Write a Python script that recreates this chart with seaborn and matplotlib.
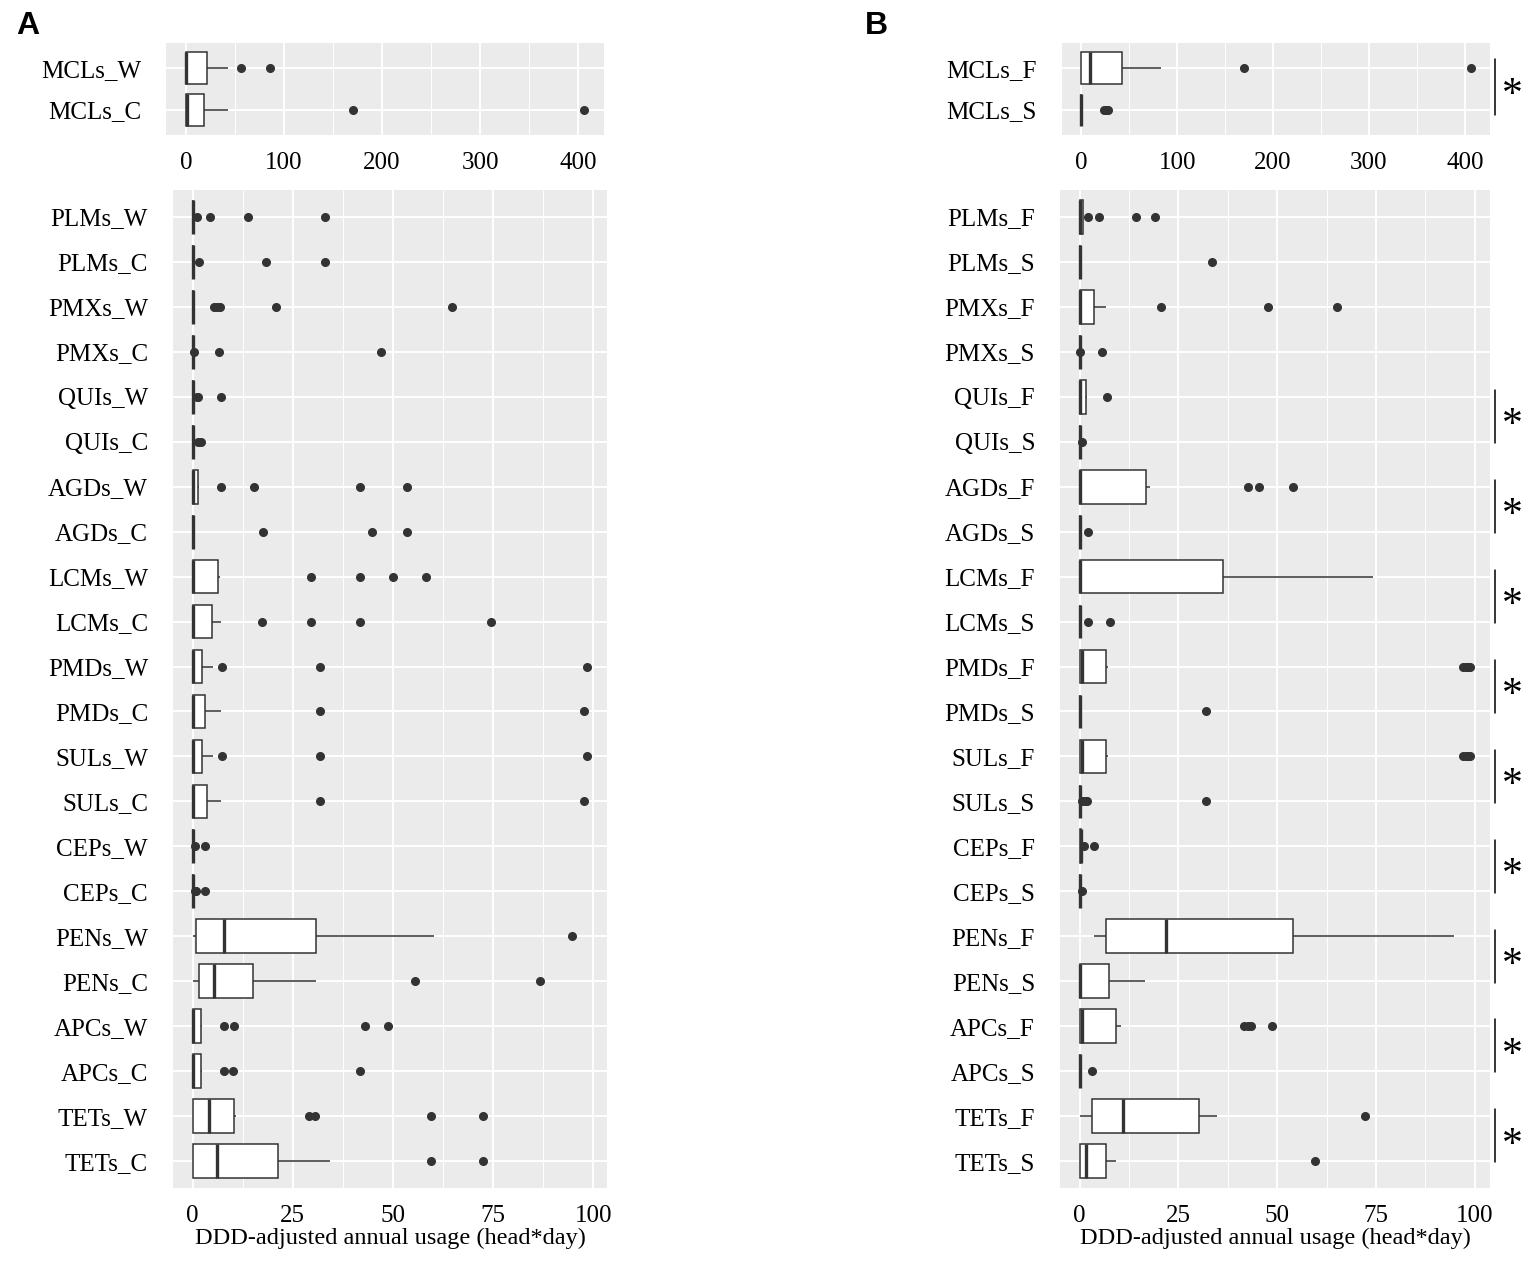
import matplotlib.pyplot as plt
import matplotlib.transforms as mtransforms
from matplotlib.ticker import MultipleLocator
import numpy as np
import pandas as pd
import seaborn as sns

# each group: 21 usage values (min/Q1/median/Q3/whisker/outliers)
a_top_labels = ["MCLs_W", "MCLs_C"]
a_top_values = [
    [0, 0, 0, 0, 0, 0, 0, 0, 0, 0, 0, 2, 5, 9, 15, 21.5, 28, 35, 43, 56, 86],
    [0, 0, 0, 0, 0, 0, 0.3, 0.6, 0.9, 1.2, 1.5, 4, 8, 12, 15, 18, 25, 33, 43, 170, 406],
]

a_bot_labels = ["PLMs_W", "PLMs_C", "PMXs_W", "PMXs_C", "QUIs_W", "QUIs_C",
                "AGDs_W", "AGDs_C", "LCMs_W", "LCMs_C", "PMDs_W", "PMDs_C",
                "SULs_W", "SULs_C", "CEPs_W", "CEPs_C", "PENs_W", "PENs_C",
                "APCs_W", "APCs_C", "TETs_W", "TETs_C"]
a_bot_values = [
    [0, 0, 0, 0, 0, 0, 0, 0, 0, 0, 0, 0, 0, 0, 0, 0, 0, 1.1, 4.3, 13.8, 33.0],
    [0, 0, 0, 0, 0, 0, 0, 0, 0, 0, 0, 0, 0, 0, 0, 0, 0, 0, 1.6, 18.4, 33.0],
    [0, 0, 0, 0, 0, 0, 0, 0, 0, 0, 0, 0, 0, 0, 0, 0, 5.3, 6.1, 6.8, 20.7, 64.8],
    [0, 0, 0, 0, 0, 0, 0, 0, 0, 0, 0, 0, 0, 0, 0, 0, 0, 0, 0.2, 6.5, 47.0],
    [0, 0, 0, 0, 0, 0, 0, 0, 0, 0, 0, 0, 0, 0, 0, 0, 0, 0, 1.0, 1.3, 7.0],
    [0, 0, 0, 0, 0, 0, 0, 0, 0, 0, 0, 0, 0, 0, 0, 0, 0, 0, 0, 1.2, 2.0],
    [0, 0, 0, 0, 0, 0, 0, 0, 0, 0, 0, 0.3, 0.6, 0.9, 1.1, 1.3, 1.6, 7.0, 15.3, 41.8, 53.6],
    [0, 0, 0, 0, 0, 0, 0, 0, 0, 0, 0, 0, 0, 0, 0, 0, 0, 0, 17.5, 44.8, 53.6],
    [0, 0, 0, 0, 0, 0, 0, 0, 0, 0, 0, 1.0, 2.2, 3.5, 5.0, 6.2, 6.9, 29.6, 41.8, 50.1, 58.2],
    [0, 0, 0, 0, 0, 0, 0, 0, 0, 0, 0, 0.8, 1.7, 2.8, 3.9, 4.7, 7.0, 17.2, 29.6, 41.8, 74.4],
    [0, 0, 0, 0, 0, 0, 0, 0, 0, 0, 0, 0.4, 0.9, 1.5, 2.0, 2.4, 3.6, 5.1, 7.4, 31.8, 98.5],
    [0, 0, 0, 0, 0, 0, 0, 0, 0, 0, 0, 0.5, 1.2, 1.9, 2.5, 3.1, 4.5, 5.8, 7.0, 31.8, 97.7],
    [0, 0, 0, 0, 0, 0, 0, 0, 0, 0, 0, 0.4, 0.9, 1.5, 2.0, 2.4, 3.6, 5.1, 7.4, 31.8, 98.5],
    [0, 0, 0, 0, 0, 0, 0, 0, 0, 0, 0, 0.6, 1.3, 2.1, 2.8, 3.5, 4.8, 6.0, 7.0, 31.8, 97.7],
    [0, 0, 0, 0, 0, 0, 0, 0, 0, 0, 0, 0, 0, 0, 0, 0, 0, 0, 0, 0.5, 3.0],
    [0, 0, 0, 0, 0, 0, 0, 0, 0, 0, 0, 0, 0, 0, 0, 0, 0, 0, 0.5, 0.8, 3.0],
    [0, 0.2, 0.4, 0.5, 0.7, 0.8, 1.5, 3.0, 4.6, 6.2, 7.8, 11, 16, 21, 26, 30.8, 38, 45, 52, 60.3, 94.6],
    [0, 0.4, 0.8, 1.0, 1.2, 1.5, 2.2, 3.0, 3.9, 4.6, 5.4, 7.0, 9.0, 11.0, 13.0, 15.0, 19, 24, 30.8, 55.5, 86.6],
    [0, 0, 0, 0, 0, 0, 0, 0, 0, 0, 0, 0.3, 0.7, 1.1, 1.6, 2.0, 2.4, 7.7, 10.4, 42.9, 48.7],
    [0, 0, 0, 0, 0, 0, 0, 0, 0, 0, 0, 0.3, 0.7, 1.1, 1.6, 2.0, 2.2, 2.4, 7.7, 10.0, 41.8],
    [0, 0, 0, 0, 0, 0, 0.8, 1.6, 2.4, 3.2, 4.0, 5.2, 6.5, 7.8, 9.1, 10.4, 10.8, 29.1, 30.6, 59.4, 72.4],
    [0, 0, 0, 0, 0, 0, 1.2, 2.5, 3.7, 4.9, 6.1, 9, 12, 15, 18, 21.3, 25, 30, 34.2, 59.4, 72.4],
]

b_top_labels = ["MCLs_F", "MCLs_S"]
b_top_values = [
    [0, 0, 0, 0, 0, 0, 1.5, 3.5, 5.5, 7.0, 8.4, 15, 22, 29, 36, 42.8, 55, 70, 82.5, 170, 406],
    [0, 0, 0, 0, 0, 0, 0, 0, 0, 0, 0, 0, 0, 0, 0, 0, 0, 0, 24, 26, 28],
]

b_bot_labels = ["PLMs_F", "PLMs_S", "PMXs_F", "PMXs_S", "QUIs_F", "QUIs_S",
                "AGDs_F", "AGDs_S", "LCMs_F", "LCMs_S", "PMDs_F", "PMDs_S",
                "SULs_F", "SULs_S", "CEPs_F", "CEPs_S", "PENs_F", "PENs_S",
                "APCs_F", "APCs_S", "TETs_F", "TETs_S"]
b_bot_values = [
    [0, 0, 0, 0, 0, 0, 0, 0, 0, 0, 0, 0.1, 0.3, 0.5, 0.7, 0.8, 0.8, 2.1, 4.8, 14.2, 19.0],
    [0, 0, 0, 0, 0, 0, 0, 0, 0, 0, 0, 0, 0, 0, 0, 0, 0, 0, 0, 0, 33.4],
    [0, 0, 0, 0, 0, 0, 0, 0, 0, 0, 0, 0.5, 1.3, 2.2, 3.0, 3.7, 5.0, 6.8, 20.7, 47.6, 65.1],
    [0, 0, 0, 0, 0, 0, 0, 0, 0, 0, 0, 0, 0, 0, 0, 0, 0, 0, 0, 0.2, 5.8],
    [0, 0, 0, 0.1, 0.2, 0.2, 0.2, 0.2, 0.2, 0.2, 0.2, 0.5, 0.8, 1.1, 1.4, 1.6, 1.7, 1.8, 1.9, 1.9, 7.0],
    [0, 0, 0, 0, 0, 0, 0, 0, 0, 0, 0, 0, 0, 0, 0, 0, 0, 0, 0, 0, 0.6],
    [0, 0, 0, 0, 0, 0, 0, 0, 0, 0, 0, 2, 5, 9, 13, 16.9, 17.2, 17.7, 42.6, 45.4, 53.9],
    [0, 0, 0, 0, 0, 0, 0, 0, 0, 0, 0, 0, 0, 0, 0, 0, 0, 0, 0, 0, 2.2],
    [0, 0, 0, 0, 0, 0, 0, 0, 0, 0, 0, 5, 12, 20, 28, 36.2, 45, 52, 60, 67, 74.2],
    [0, 0, 0, 0, 0, 0, 0, 0, 0, 0, 0, 0, 0, 0, 0, 0, 0, 0, 0, 2.2, 7.7],
    [0, 0, 0, 0, 0, 0, 0.2, 0.4, 0.5, 0.6, 0.7, 2.0, 3.5, 5.0, 6.0, 6.8, 7.1, 97.1, 97.7, 98.3, 98.9],
    [0, 0, 0, 0, 0, 0, 0, 0, 0, 0, 0, 0, 0, 0, 0, 0, 0, 0, 0, 0, 32.1],
    [0, 0, 0, 0, 0, 0, 0.2, 0.4, 0.5, 0.6, 0.7, 2.0, 3.5, 5.0, 6.0, 6.8, 7.1, 97.1, 97.7, 98.3, 98.9],
    [0, 0, 0, 0, 0, 0, 0, 0, 0, 0, 0, 0, 0, 0, 0, 0, 0, 0.7, 1.3, 2.0, 32.1],
    [0, 0, 0, 0, 0, 0, 0.1, 0.2, 0.2, 0.3, 0.3, 0.3, 0.4, 0.4, 0.4, 0.4, 0.4, 0.4, 0.4, 1.2, 3.6],
    [0, 0, 0, 0, 0, 0, 0, 0, 0, 0, 0, 0, 0, 0, 0, 0, 0, 0, 0, 0, 0.6],
    [3.6, 4.5, 5.2, 5.8, 6.3, 6.7, 9, 12.5, 15.5, 18.5, 21.8, 28, 35, 42, 48, 54.1, 62, 70, 78, 86, 94.7],
    [0, 0, 0, 0, 0, 0, 0, 0, 0, 0, 0, 1.5, 3, 4.5, 6, 7.5, 9, 11, 13, 15, 16.5],
    [0, 0, 0, 0, 0, 0, 0.1, 0.2, 0.3, 0.4, 0.5, 2.5, 4.5, 6.5, 8, 9.2, 10.5, 41.7, 42.6, 43.3, 48.8],
    [0, 0, 0, 0, 0, 0, 0, 0, 0, 0, 0, 0, 0, 0, 0, 0, 0, 0, 0, 0, 3.1],
    [0, 0.8, 1.5, 2.1, 2.6, 3.1, 5, 7, 8.5, 10, 11.1, 15, 19, 23, 27, 30.2, 31, 32.5, 33.5, 34.8, 72.3],
    [0, 0, 0, 0, 0, 0, 0.4, 0.8, 1.1, 1.4, 1.6, 2.5, 3.5, 4.6, 5.7, 6.7, 7.2, 7.8, 8.5, 9.2, 59.6],
]

# pairs marked significant in panel B
b_top_sig = [("MCLs_F", "MCLs_S")]
b_bot_sig = [("QUIs_F", "QUIs_S"), ("AGDs_F", "AGDs_S"), ("LCMs_F", "LCMs_S"),
             ("PMDs_F", "PMDs_S"), ("SULs_F", "SULs_S"), ("CEPs_F", "CEPs_S"),
             ("PENs_F", "PENs_S"), ("APCs_F", "APCs_S"), ("TETs_F", "TETs_S")]

XLABEL = "DDD-adjusted annual usage (head*day)"
W, H = 1535, 1265

sns.set_theme(style="darkgrid", rc={"axes.facecolor": "#EBEBEB", "grid.color": "white"})
plt.rcParams["font.family"] = ["Liberation Serif", "DejaVu Serif"]

fig = plt.figure(figsize=(W / 100, H / 100), dpi=100)


def add_axes(l, t, r, b):
    return fig.add_axes([l / W, 1 - b / H, (r - l) / W, (b - t) / H])


def draw_panel(ax, labels, values, major, minor, xlabel=None):
    df = pd.DataFrame({"group": np.repeat(labels, [len(v) for v in values]),
                       "value": np.concatenate(values)})
    sns.boxplot(data=df, x="value", y="group", order=labels, ax=ax,
                color="white", linecolor="#333333", linewidth=1.1, width=0.75,
                whis=1.5, showcaps=False, fliersize=5.5,
                flierprops=dict(marker="o", markerfacecolor="#333333",
                                markeredgecolor="#333333"),
                medianprops=dict(linewidth=2.4))
    lo, hi = df["value"].min(), df["value"].max()
    pad = 0.05 * (hi - lo)
    ax.set_xlim(lo - pad, hi + pad)
    ax.set_ylim(len(labels) - 0.4, -0.6)
    ax.xaxis.set_major_locator(MultipleLocator(major))
    ax.xaxis.set_minor_locator(MultipleLocator(minor))
    ax.set_axisbelow(True)
    ax.grid(which="major", color="white", linewidth=1.4)
    ax.grid(which="minor", axis="x", color="white", linewidth=0.7)
    ax.tick_params(which="minor", length=0)
    ax.tick_params(which="major", length=4, width=1, color="#333333", labelcolor="black")
    ax.tick_params(axis="y", pad=14, labelsize=18)
    ax.tick_params(axis="x", pad=8, labelsize=18)
    for s in ax.spines.values():
        s.set_visible(False)
    ax.set_ylabel("")
    ax.set_xlabel(xlabel if xlabel else "", fontsize=17.5, labelpad=1, color="black")


def add_sig(ax, labels, pairs, top_off, bot_off):
    trans = mtransforms.blended_transform_factory(ax.transAxes, ax.transData)
    for a, b in pairs:
        i, j = labels.index(a), labels.index(b)
        ax.plot([1.012, 1.012], [i - top_off, j + bot_off], transform=trans,
                color="black", linewidth=1.1, clip_on=False)
        ax.text(1.053, (i + j) / 2 + 0.15, "*", transform=trans, fontsize=30,
                ha="center", va="center", color="black")


ax_at = add_axes(166, 43, 604, 135)
draw_panel(ax_at, a_top_labels, a_top_values, 100, 50)
ax_ab = add_axes(173, 190, 607, 1188)
draw_panel(ax_ab, a_bot_labels, a_bot_values, 25, 12.5, XLABEL)

ax_bt = add_axes(1062, 43, 1490, 135)
draw_panel(ax_bt, b_top_labels, b_top_values, 100, 50)
add_sig(ax_bt, b_top_labels, b_top_sig, 0.22, 0.12)
ax_bb = add_axes(1060, 190, 1490, 1188)
draw_panel(ax_bb, b_bot_labels, b_bot_values, 25, 12.5, XLABEL)
add_sig(ax_bb, b_bot_labels, b_bot_sig, 0.15, 0.03)

fig.text(16 / W, 1 - 34 / H, "A", fontsize=23, fontweight="bold",
         family=["Liberation Sans", "DejaVu Sans"], va="baseline", color="black")
fig.text(865 / W, 1 - 34 / H, "B", fontsize=23, fontweight="bold",
         family=["Liberation Sans", "DejaVu Sans"], va="baseline", color="black")

fig.savefig("out.png", dpi=100)
